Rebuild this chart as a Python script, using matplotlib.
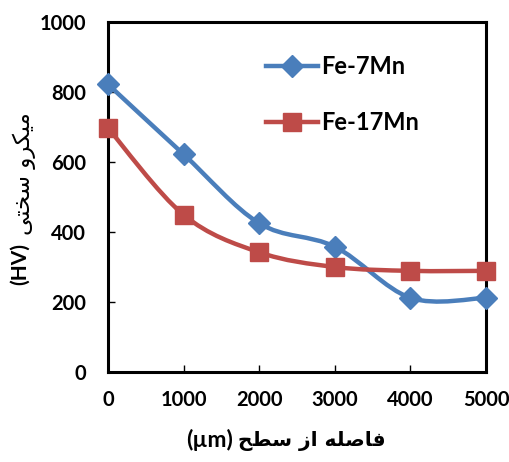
import numpy as np
import matplotlib
matplotlib.use("Agg")
import matplotlib.pyplot as plt
from matplotlib.path import Path
from matplotlib.patches import PathPatch
from matplotlib.lines import Line2D

# data
distance = [0, 1000, 2000, 3000, 4000, 5000]
fe7mn = [822, 622, 425, 358, 212, 212]
fe17mn = [697, 449, 342, 300, 289, 289]
series_names = ["Fe-7Mn", "Fe-17Mn"]
x_ticks = [0, 1000, 2000, 3000, 4000, 5000]
y_ticks = [0, 200, 400, 600, 800, 1000]

# Persian labels written in presentation forms, visual order
ylabel_fa = "\uFEF0\uFE98\uFEA8\uFEB3 \uFEED\uFEAE\uFB91\uFEF4\uFEE3"
xlabel_fa = "\uFEA2\uFEC4\uFEB3 \uFEAF\uFE8D \uFEEA\uFEE0\uFEBB\uFE8E\uFED3"

blue = "#4A7EBB"
red = "#BE4B48"
num_font = "Lato"
W, H = 510, 462


def smooth_path(xs, ys):
    # Excel-like smoothed line (Catmull-Rom as cubic Bezier)
    pts = np.column_stack([xs, ys]).astype(float)
    n = len(pts)
    verts = [pts[0]]
    codes = [Path.MOVETO]
    for i in range(n - 1):
        p0 = pts[max(i - 1, 0)]
        p1 = pts[i]
        p2 = pts[i + 1]
        p3 = pts[min(i + 2, n - 1)]
        c1 = p1 + (p2 - p0) / 6.0
        c2 = p2 - (p3 - p1) / 6.0
        verts += [c1, c2, p2]
        codes += [Path.CURVE4] * 3
    return Path(verts, codes)


fig = plt.figure(figsize=(5.1, 4.62), dpi=100)
ax = fig.add_axes([108 / W, 1 - 372 / H, 378 / W, 350 / H])

for ys, col, mk, ms in [(fe7mn, blue, "D", 11.5), (fe17mn, red, "s", 13)]:
    ax.add_patch(PathPatch(smooth_path(distance, ys), facecolor="none",
                           edgecolor=col, lw=3.2, capstyle="round", zorder=2))
    ax.plot(distance, ys, ls="none", marker=mk, ms=ms, color=col, zorder=3,
            clip_on=False)

ax.set_xlim(0, 5000)
ax.set_ylim(0, 1000)
ax.set_xticks(x_ticks)
ax.set_yticks(y_ticks)
ax.set_xticklabels([str(v) for v in x_ticks], fontfamily=num_font,
                   fontweight="bold", fontsize=14.5)
ax.set_yticklabels([str(v) for v in y_ticks], fontfamily=num_font,
                   fontweight="bold", fontsize=14.5)
ax.tick_params(direction="in", length=5, width=1, color="black")
ax.tick_params(axis="x", pad=13)
ax.tick_params(axis="y", pad=16)
for sp in ax.spines.values():
    sp.set_linewidth(2.2)

handles = [
    Line2D([], [], color=blue, lw=3.2, marker="D", ms=11.5),
    Line2D([], [], color=red, lw=3.2, marker="s", ms=13),
]
leg = fig.legend(handles, series_names, loc="upper left",
                 bbox_to_anchor=(266 / W, 1 - 55 / H), frameon=False,
                 handlelength=2.2, labelspacing=1.4, handletextpad=0.15,
                 borderpad=0, borderaxespad=0,
                 prop={"family": num_font, "weight": "bold", "size": 17})

# x label: (µm) + Persian
fig.text(233 / W, 1 - 440 / H, "(\u00b5m)", fontfamily=num_font,
         fontweight="bold", fontsize=16.5, ha="right", va="center")
fig.text(238 / W, 1 - 441 / H, xlabel_fa, fontfamily="DejaVu Sans",
         fontweight="bold", fontsize=14.5, ha="left", va="center")

# y label: (HV) + Persian, rotated
fig.text(20 / W, 1 - 264 / H, "(HV)", fontfamily=num_font,
         fontweight="bold", fontsize=15, ha="center", va="center", rotation=90)
fig.text(24 / W, 1 - 174 / H, ylabel_fa, fontfamily="DejaVu Sans",
         fontsize=16.5, ha="center", va="center", rotation=90)

fig.savefig("out.png", dpi=100)
